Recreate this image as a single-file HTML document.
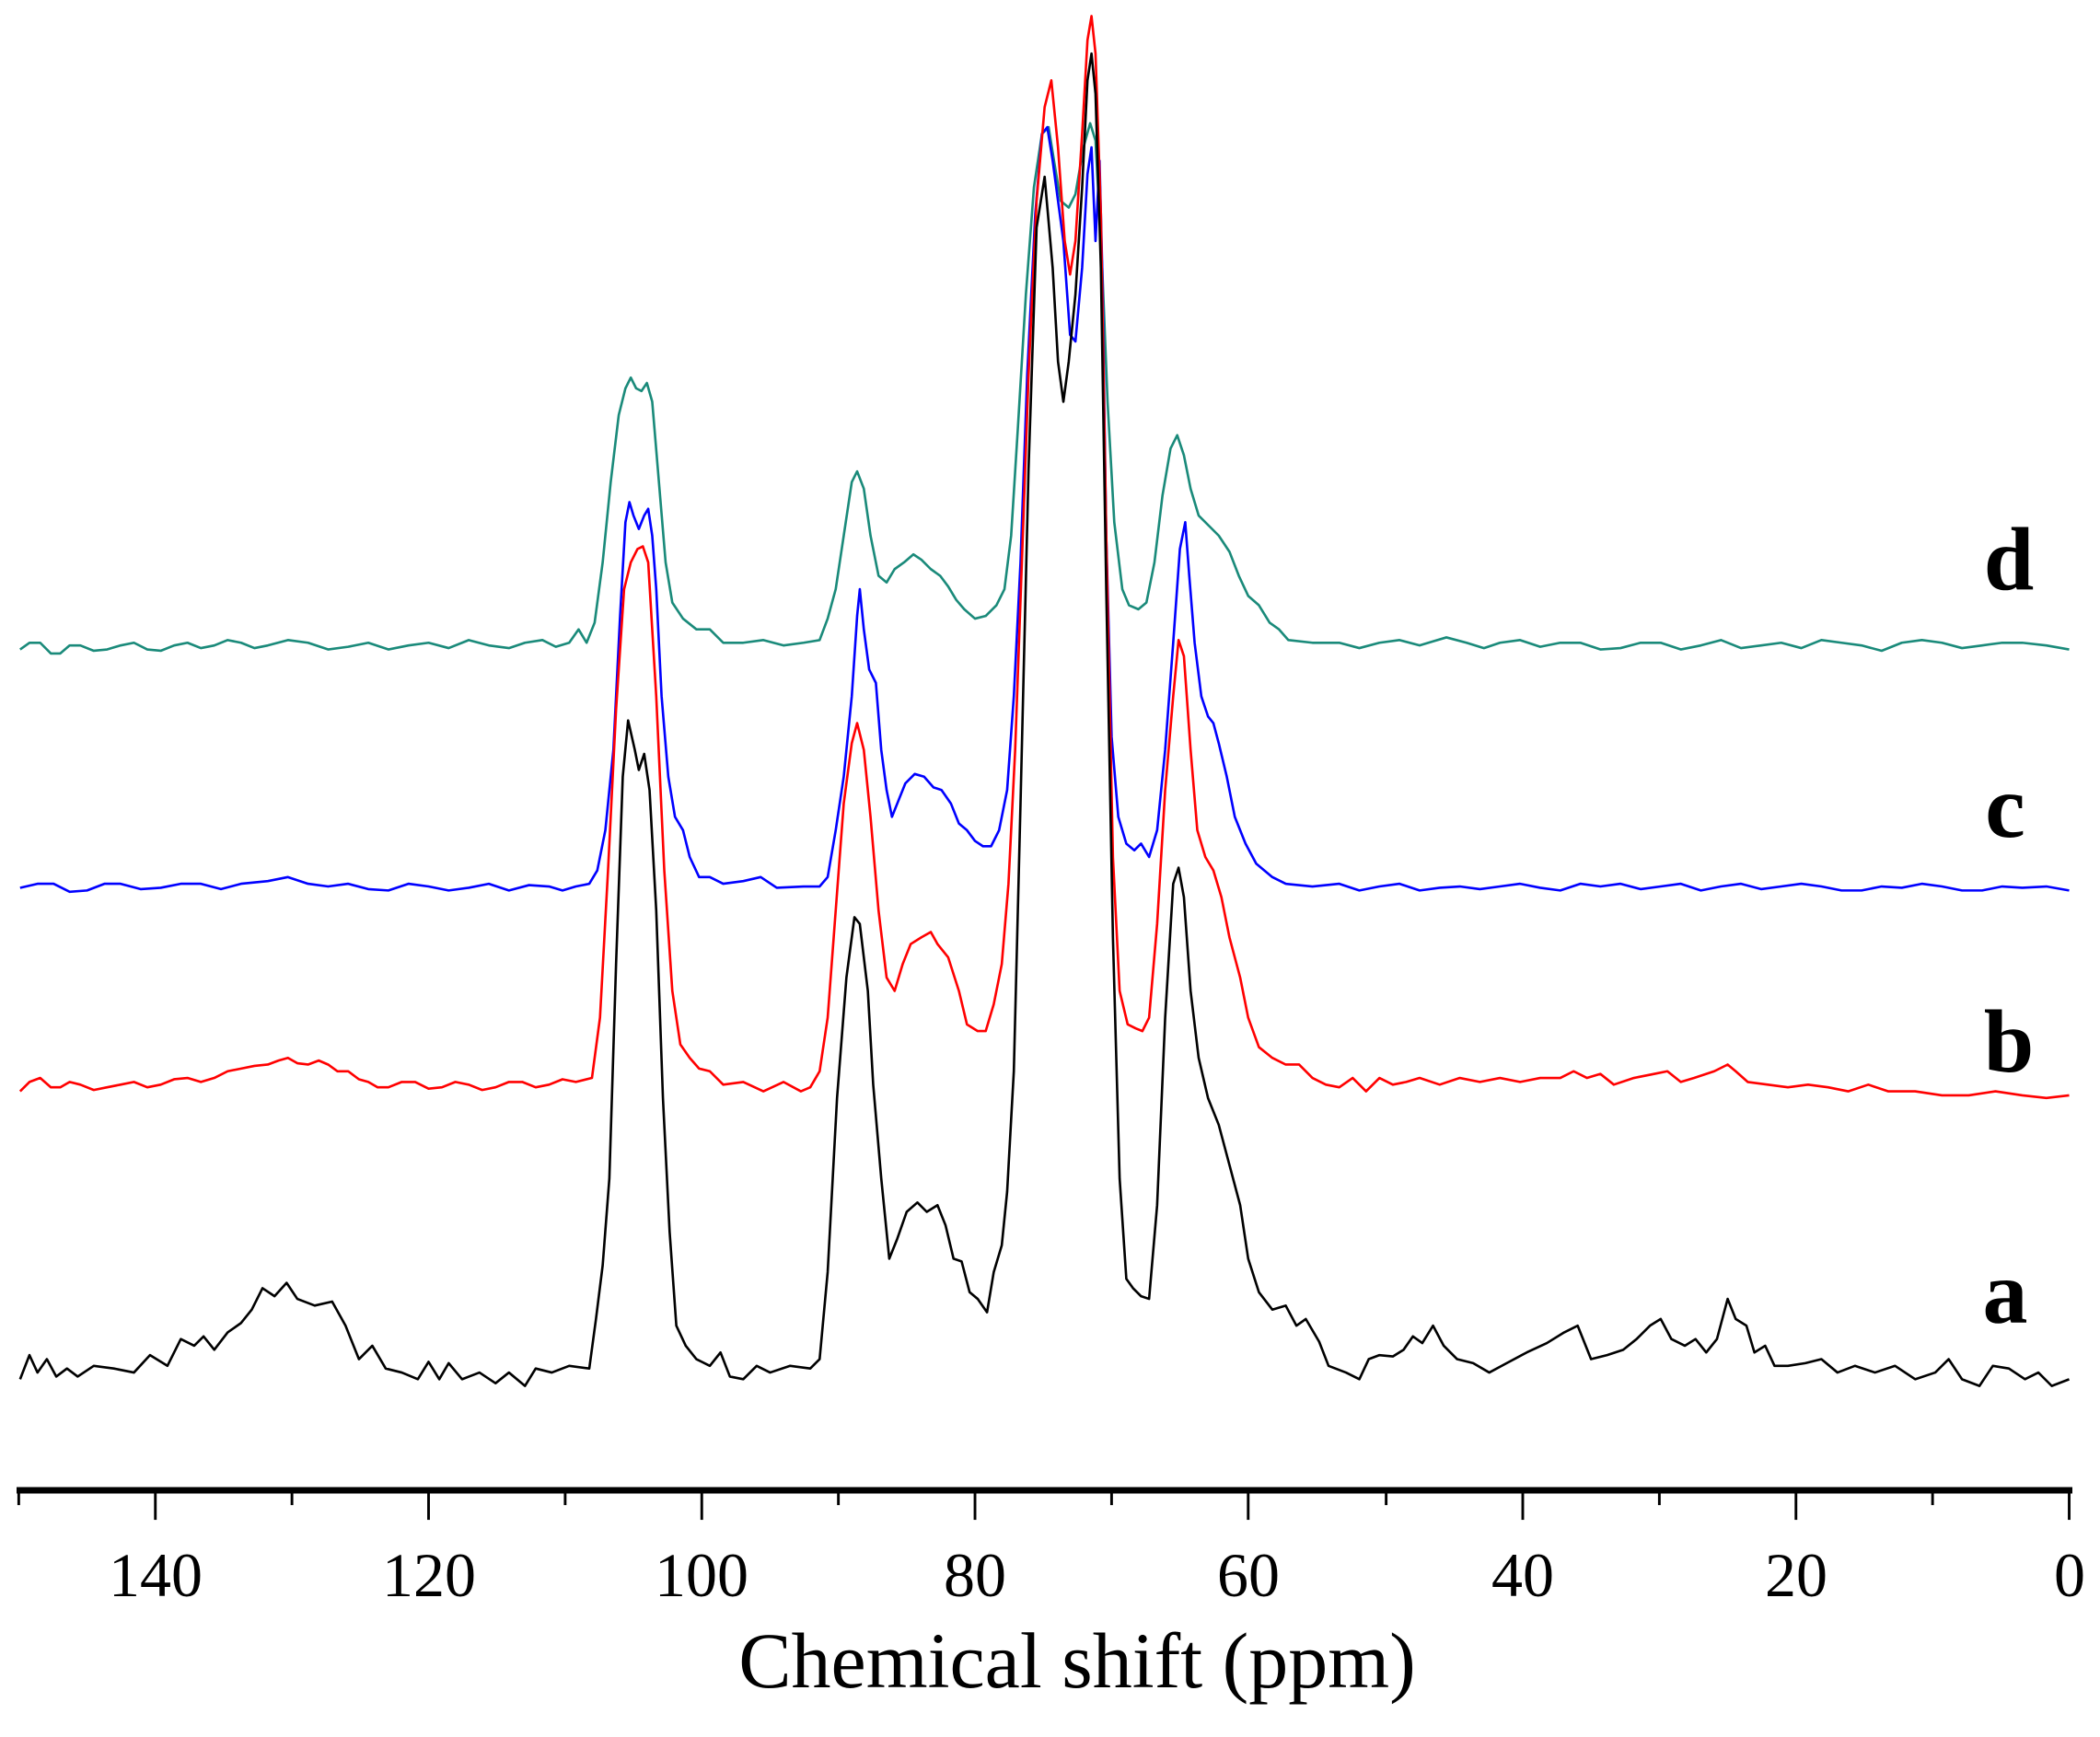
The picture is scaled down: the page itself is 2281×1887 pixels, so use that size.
<!DOCTYPE html>
<html><head><meta charset="utf-8"><style>
html,body{margin:0;padding:0;background:#fff;}
svg{display:block;}
</style></head><body>
<svg width="2281" height="1887" viewBox="0 0 2281 1887" xmlns="http://www.w3.org/2000/svg">
<g transform="scale(1.4547)" fill="none" stroke-linejoin="round">
<polyline stroke="#1a8a7a" stroke-width="1.8" points="15,485 22,480 30,480 38,488 45,488 52,482 60,482 70,486 80,485 90,482 100,480 110,485 120,486 130,482 140,480 150,484 160,482 170,478 180,480 190,484 200,482 215,478 230,480 245,485 260,483 275,480 290,485 305,482 320,480 335,484 350,478 365,482 380,484 392,480 405,478 415,483 425,480 432,470 438,480 444,465 450,420 456,360 462,310 467,290 471,282 475,290 479,292 483,286 487,300 492,360 497,420 502,450 510,462 520,470 530,470 540,480 555,480 570,478 585,482 600,480 612,478 618,462 624,440 630,400 636,360 640,352 645,365 650,400 656,430 662,435 668,425 675,420 682,414 688,418 695,425 702,430 708,438 714,448 720,455 728,462 736,460 744,452 750,440 755,400 760,320 766,220 772,140 778,100 783,95 787,120 792,150 798,155 803,145 809,110 814,92 818,105 823,200 827,300 832,390 838,440 843,452 850,455 856,450 862,420 868,370 874,335 879,325 884,340 889,365 895,385 902,392 910,400 918,412 925,430 932,445 940,452 948,465 955,470 962,478 980,480 1000,480 1015,484 1030,480 1045,478 1060,482 1070,479 1080,476 1095,480 1108,484 1120,480 1135,478 1150,483 1165,480 1180,480 1195,485 1210,484 1225,480 1240,480 1255,485 1270,482 1285,478 1300,484 1315,482 1330,480 1345,484 1360,478 1375,480 1390,482 1405,486 1420,480 1435,478 1450,480 1465,484 1480,482 1495,480 1510,480 1528,482 1545,485"/>
<polyline stroke="#0000ff" stroke-width="1.8" points="15,663 28,660 40,660 52,666 65,665 78,660 90,660 105,664 120,663 135,660 150,660 165,664 180,660 200,658 215,655 230,660 245,662 260,660 275,664 290,665 305,660 320,662 335,665 350,663 365,660 380,665 395,661 410,662 420,665 430,662 440,660 446,650 452,620 458,560 463,460 467,390 470,375 473,385 477,395 481,385 484,380 487,400 490,440 494,520 499,580 504,610 510,620 515,640 522,655 530,655 540,660 555,658 568,655 580,663 600,662 612,662 618,655 624,620 630,580 636,520 640,460 642,440 645,470 649,500 654,510 658,560 662,590 666,610 670,600 676,585 683,578 690,580 697,588 703,590 710,600 716,615 722,620 728,628 734,632 740,632 746,620 752,590 757,520 762,420 767,280 773,160 778,100 782,95 786,120 790,150 794,180 799,250 803,255 808,200 812,130 815,110 818,180 821,120 823,200 826,400 830,550 835,610 841,630 847,635 852,630 858,640 864,620 870,560 876,480 881,410 885,390 888,430 892,480 897,520 902,535 906,540 910,555 916,580 922,610 930,630 938,645 950,655 960,660 980,662 1000,660 1015,665 1030,662 1045,660 1060,665 1075,663 1090,662 1105,664 1120,662 1135,660 1150,663 1165,665 1180,660 1195,662 1210,660 1225,664 1240,662 1255,660 1270,665 1285,662 1300,660 1315,664 1330,662 1345,660 1360,662 1375,665 1390,665 1405,662 1420,663 1435,660 1450,662 1465,665 1480,665 1495,662 1510,663 1528,662 1545,665"/>
<polyline stroke="#ff0000" stroke-width="1.8" points="15,815 22,808 30,805 38,812 45,812 52,808 60,810 70,814 80,812 90,810 100,808 110,812 120,810 130,806 140,805 150,808 160,805 170,800 180,798 190,796 200,795 208,792 215,790 222,794 230,795 238,792 245,795 252,800 260,800 268,806 275,808 282,812 290,812 300,808 310,808 320,813 330,812 340,808 350,810 360,814 370,812 380,808 390,808 400,812 410,810 420,806 430,808 442,805 448,760 454,650 460,530 466,440 471,420 476,410 480,408 484,420 490,520 496,650 502,740 508,780 515,790 522,798 530,800 540,810 555,808 570,815 585,808 598,815 605,812 612,800 618,760 624,680 630,600 636,555 640,540 645,560 650,610 656,680 662,730 668,740 674,720 680,705 688,700 695,696 700,705 708,715 716,740 722,765 730,770 736,770 742,750 748,720 753,660 758,560 763,420 768,280 774,150 780,80 785,60 790,110 795,180 799,205 803,180 808,100 812,30 815,12 818,40 822,160 826,400 831,640 836,740 842,765 848,768 853,770 858,760 864,690 870,590 876,520 880,478 884,490 889,560 894,620 900,640 906,650 912,670 918,700 926,730 932,760 940,782 950,790 960,795 970,795 980,805 990,810 1000,812 1010,805 1020,815 1030,805 1040,810 1050,808 1060,805 1075,810 1090,805 1105,808 1120,805 1135,808 1150,805 1165,805 1175,800 1185,805 1195,802 1205,810 1220,805 1235,802 1245,800 1255,808 1265,805 1280,800 1290,795 1296,800 1305,808 1320,810 1335,812 1350,810 1365,812 1380,815 1395,810 1410,815 1430,815 1450,818 1470,818 1490,815 1510,818 1528,820 1545,818"/>
<polyline stroke="#000" stroke-width="1.8" points="15,1030 22,1012 28,1025 35,1015 42,1028 50,1022 58,1028 70,1020 85,1022 100,1025 112,1012 125,1020 135,1000 145,1005 152,998 160,1008 170,995 180,988 188,978 196,962 205,968 214,958 222,970 235,975 248,972 258,990 268,1015 278,1005 288,1022 300,1025 312,1030 320,1017 328,1030 335,1018 345,1030 358,1025 370,1033 380,1025 392,1035 400,1022 412,1025 425,1020 440,1022 445,985 450,945 455,880 460,720 465,580 469,538 474,560 477,575 481,563 485,590 490,680 495,820 500,920 505,990 512,1005 520,1015 530,1020 538,1010 545,1028 555,1030 565,1020 575,1025 590,1020 605,1022 612,1015 618,950 625,820 632,730 638,685 642,690 648,740 652,810 658,880 664,940 670,925 677,905 685,898 692,905 700,900 706,915 712,940 718,942 724,965 730,970 737,980 742,950 748,930 752,890 757,800 762,600 768,350 774,170 780,132 786,200 790,270 794,300 798,270 803,220 808,140 812,60 815,40 818,70 822,200 826,440 831,700 836,880 841,955 846,962 852,968 858,970 864,900 870,760 876,660 880,648 884,670 889,740 895,790 902,820 910,840 918,870 926,900 932,940 940,965 950,978 960,975 968,990 975,985 985,1002 992,1020 1005,1025 1015,1030 1022,1015 1030,1012 1040,1013 1048,1008 1055,998 1062,1003 1070,990 1078,1005 1088,1015 1100,1018 1112,1025 1125,1018 1140,1010 1155,1003 1168,995 1178,990 1188,1015 1200,1012 1212,1008 1222,1000 1232,990 1240,985 1248,1000 1258,1005 1266,1000 1274,1010 1282,1000 1290,970 1296,985 1304,990 1310,1010 1318,1005 1325,1020 1335,1020 1348,1018 1360,1015 1372,1025 1385,1020 1400,1025 1415,1020 1430,1030 1445,1025 1455,1015 1465,1030 1478,1035 1488,1020 1500,1022 1512,1030 1522,1025 1532,1035 1545,1030"/>
<g stroke="#000" stroke-width="2">
<line x1="14" y1="1113" x2="14" y2="1124"/><line x1="116" y1="1113" x2="116" y2="1135"/>
<line x1="218" y1="1113" x2="218" y2="1124"/><line x1="320" y1="1113" x2="320" y2="1135"/>
<line x1="422" y1="1113" x2="422" y2="1124"/><line x1="524" y1="1113" x2="524" y2="1135"/>
<line x1="626" y1="1113" x2="626" y2="1124"/><line x1="728" y1="1113" x2="728" y2="1135"/>
<line x1="830" y1="1113" x2="830" y2="1124"/><line x1="932" y1="1113" x2="932" y2="1135"/>
<line x1="1035" y1="1113" x2="1035" y2="1124"/><line x1="1137" y1="1113" x2="1137" y2="1135"/>
<line x1="1239" y1="1113" x2="1239" y2="1124"/><line x1="1341" y1="1113" x2="1341" y2="1135"/>
<line x1="1443" y1="1113" x2="1443" y2="1124"/><line x1="1545" y1="1113" x2="1545" y2="1135"/>
</g>
</g>
<line x1="18" y1="1619" x2="2251" y2="1619" stroke="#000" stroke-width="7"/>
<g font-family="Liberation Serif, serif" font-size="68" text-anchor="middle" fill="#000">
<text x="169" y="1734">140</text><text x="466" y="1734">120</text><text x="762" y="1734">100</text>
<text x="1059" y="1734">80</text><text x="1356" y="1734">60</text><text x="1654" y="1734">40</text>
<text x="1951" y="1734">20</text><text x="2248" y="1734">0</text>
</g>
<text x="1170" y="1833" font-family="Liberation Serif, serif" font-size="86" text-anchor="middle">Chemical shift (ppm)</text>
<g font-family="Liberation Serif, serif" font-size="98" font-weight="bold" text-anchor="middle">
<text x="2182" y="640">d</text><text x="2178" y="909">c</text><text x="2182" y="1164">b</text><text x="2178" y="1437">a</text>
</g>
</svg>
</body></html>
